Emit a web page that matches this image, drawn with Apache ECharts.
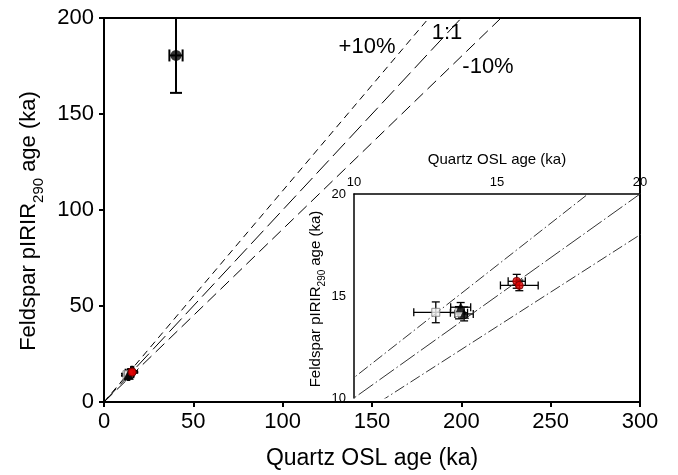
<!DOCTYPE html>
<html>
<head>
<meta charset="utf-8">
<script src="https://cdn.jsdelivr.net/npm/echarts@6/dist/echarts.min.js"></script>
<style>html,body{margin:0;padding:0;background:#fff}#c{width:678px;height:475px}</style>
</head>
<body>
<div id="c"></div>
<script>
// ---- data (ka) ----
const squareX = [12.86, 13.67];
const squareY = [14.20, 14.18];
const squareXErr = [0.77, 0.30];
const squareYErr = [0.51, 0.30];

const triX = [13.73, 13.85];
const triY = [14.45, 14.12];
const triXErr = [0.35, 0.32];
const triYErr = [0.23, 0.34];

const redX = [15.69, 15.78];
const redY = [15.72, 15.52];
const redXErr = [0.30, 0.66];
const redYErr = [0.34, 0.26];

const blackX = [40.3];
const blackY = [180.5];
const blackXErr = [3.7];
const blackYErr = [19.5];

const ratios = [1.1, 1.0, 0.9];
const ratioNames = ['+10%', '1:1', '-10%'];

const mainXTicks = [0, 50, 100, 150, 200, 250, 300];
const mainYTicks = [0, 50, 100, 150, 200];
const insetTicks = [10, 15, 20];

const FONT = 'Liberation Sans, Arial, Helvetica, sans-serif';

function pts(xs, ys, xe, ye) {
  return xs.map((x, i) => [x, ys[i], xe[i], ye[i]]);
}
const squares = pts(squareX, squareY, squareXErr, squareYErr);
const tris = pts(triX, triY, triXErr, triYErr);
const reds = pts(redX, redY, redXErr, redYErr);
const blacks = pts(blackX, blackY, blackXErr, blackYErr);

function errRender(cap, lw) {
  return function (params, api) {
    const x = api.value(0), y = api.value(1), xe = api.value(2), ye = api.value(3);
    const l = api.coord([x - xe, y]), r = api.coord([x + xe, y]);
    const t = api.coord([x, y + ye]), b = api.coord([x, y - ye]);
    const st = { stroke: '#000', lineWidth: lw };
    return {
      type: 'group',
      children: [
        { type: 'line', shape: { x1: l[0], y1: l[1], x2: r[0], y2: r[1] }, style: st },
        { type: 'line', shape: { x1: l[0], y1: l[1] - cap, x2: l[0], y2: l[1] + cap }, style: st },
        { type: 'line', shape: { x1: r[0], y1: r[1] - cap, x2: r[0], y2: r[1] + cap }, style: st },
        { type: 'line', shape: { x1: t[0], y1: t[1], x2: b[0], y2: b[1] }, style: st },
        { type: 'line', shape: { x1: t[0] - cap, y1: t[1], x2: t[0] + cap, y2: t[1] }, style: st },
        { type: 'line', shape: { x1: b[0] - cap, y1: b[1], x2: b[0] + cap, y2: b[1] }, style: st }
      ]
    };
  };
}

const mainDash = [[7, 5], [18, 6], [12, 6]];
const insetDash = [[11, 3, 1.5, 3], [18, 3, 1.5, 3], [11, 3, 1.5, 3]];

const series = [];
// reference lines
ratios.forEach((r, i) => {
  series.push({
    type: 'line', xAxisIndex: 0, yAxisIndex: 0, symbol: 'none', silent: true,
    data: [[0, 0], [300, 300 * r]], clip: true,
    lineStyle: { color: '#000', width: 1, type: mainDash[i] }
  });
  series.push({
    type: 'line', xAxisIndex: 1, yAxisIndex: 1, symbol: 'none', silent: true,
    data: [[0, 0], [30, 30 * r]], clip: true,
    lineStyle: { color: '#333', width: 1, type: insetDash[i] }
  });
});

function addPoints(ax, cap, lw) {
  [squares, tris, reds, blacks].forEach(d => {
    series.push({
      type: 'custom', xAxisIndex: ax, yAxisIndex: ax, renderItem: errRender(cap, lw),
      data: d, clip: true, z: 3, silent: true
    });
  });
  series.push({
    type: 'scatter', xAxisIndex: ax, yAxisIndex: ax, data: squares, symbol: 'rect',
    symbolSize: 8, z: 4, silent: true,
    itemStyle: { color: '#f4f4f4', borderColor: '#777', borderWidth: 1 }
  });
  series.push({
    type: 'scatter', xAxisIndex: ax, yAxisIndex: ax, data: tris, symbol: 'triangle',
    symbolSize: 10, z: 4, silent: true,
    itemStyle: { color: '#000' }
  });
  series.push({
    type: 'scatter', xAxisIndex: ax, yAxisIndex: ax, data: reds, symbol: 'circle',
    symbolSize: 8, z: 4, silent: true,
    itemStyle: { color: '#e00000', borderColor: '#600', borderWidth: 1 }
  });
  series.push({
    type: 'scatter', xAxisIndex: ax, yAxisIndex: ax, data: blacks, symbol: 'circle',
    symbolSize: 11, z: 4, silent: true,
    itemStyle: { color: '#000' }
  });
}
addPoints(0, 6, 2);
addPoints(1, 4, 1.3);

const chart = echarts.init(document.getElementById('c'));
chart.setOption({
  animation: false,
  backgroundColor: '#fff',
  textStyle: { fontFamily: FONT },
  grid: [
    { left: 104, right: 38, top: 18, bottom: 72, show: true, borderColor: '#000', borderWidth: 2, backgroundColor: 'transparent' },
    { left: 354, right: 38, top: 194, bottom: 77, show: false }
  ],
  xAxis: [
    {
      gridIndex: 0, type: 'value', min: 0, max: 300, interval: 50,
      name: 'Quartz OSL age (ka)', nameLocation: 'middle', nameGap: 45,
      nameTextStyle: { fontSize: 23, color: '#000', fontFamily: FONT },
      axisLine: { lineStyle: { color: '#000', width: 2 } },
      axisTick: { show: true, length: 5, lineStyle: { color: '#000', width: 2 } },
      axisLabel: { fontSize: 22, color: '#000', margin: 9, fontFamily: FONT,
        formatter: v => mainXTicks.includes(v) ? String(v) : '' },
      splitLine: { show: false }
    },
    {
      gridIndex: 1, type: 'value', min: 10, max: 20, interval: 5, position: 'top',
      name: 'Quartz OSL age (ka)', nameLocation: 'middle', nameGap: 27,
      nameTextStyle: { fontSize: 15, color: '#000', fontFamily: FONT },
      axisLine: { lineStyle: { color: '#000', width: 1.5 } },
      axisTick: { show: false },
      axisLabel: { fontSize: 13, color: '#000', margin: 5, fontFamily: FONT,
        formatter: v => insetTicks.includes(v) ? String(v) : '' },
      splitLine: { show: false }
    }
  ],
  yAxis: [
    {
      gridIndex: 0, type: 'value', min: 0, max: 200, interval: 50,
      name: '{a|Feldspar pIRIR}{s|290}{b|age (ka)}{p| }', nameLocation: 'middle', nameGap: 56,
      nameTextStyle: { fontSize: 22, color: '#000', fontFamily: FONT,
        rich: { a: { fontSize: 22, fontFamily: FONT, color: '#000', lineHeight: 27 },
                b: { fontSize: 22, fontFamily: FONT, color: '#000', lineHeight: 27, padding: [0, 0, 0, 6] },
                s: { fontSize: 15, fontFamily: FONT, color: '#000', verticalAlign: 'bottom', lineHeight: 27, padding: [0, 0, -4, 0] },
                p: { fontSize: 22, fontFamily: FONT, width: 22, lineHeight: 27 } } },
      axisLine: { lineStyle: { color: '#000', width: 2 } },
      axisTick: { show: true, length: 5, lineStyle: { color: '#000', width: 2 } },
      axisLabel: { fontSize: 22, color: '#000', margin: 10, fontFamily: FONT,
        formatter: v => mainYTicks.includes(v) ? String(v) : '' },
      splitLine: { show: false }
    },
    {
      gridIndex: 1, type: 'value', min: 10, max: 20, interval: 5,
      name: '{a|Feldspar pIRIR}{s|290}{b|age (ka)}{p| }', nameLocation: 'middle', nameGap: 27,
      nameTextStyle: { fontSize: 15, color: '#000', fontFamily: FONT,
        rich: { a: { fontSize: 15, fontFamily: FONT, color: '#000', lineHeight: 18 },
                b: { fontSize: 15, fontFamily: FONT, color: '#000', lineHeight: 18, padding: [0, 0, 0, 4] },
                s: { fontSize: 10, fontFamily: FONT, color: '#000', verticalAlign: 'bottom', lineHeight: 18, padding: [0, 0, -3, 0] },
                p: { fontSize: 15, fontFamily: FONT, width: 6, lineHeight: 18 } } },
      axisLine: { lineStyle: { color: '#000', width: 1.5 } },
      axisTick: { show: false },
      axisLabel: { fontSize: 13, color: '#000', margin: 8, fontFamily: FONT,
        formatter: v => insetTicks.includes(v) ? String(v) : '' },
      splitLine: { show: false }
    }
  ],
  graphic: [
    { type: 'text', x: 367, y: 47, style: { text: ratioNames[0], fontSize: 22, fontFamily: FONT, fill: '#000', align: 'center', verticalAlign: 'middle' } },
    { type: 'text', x: 447, y: 33, style: { text: ratioNames[1], fontSize: 22, fontFamily: FONT, fill: '#000', align: 'center', verticalAlign: 'middle' } },
    { type: 'text', x: 488, y: 67, style: { text: ratioNames[2], fontSize: 22, fontFamily: FONT, fill: '#000', align: 'center', verticalAlign: 'middle' } }
  ],
  series: series
});
</script>
</body>
</html>
